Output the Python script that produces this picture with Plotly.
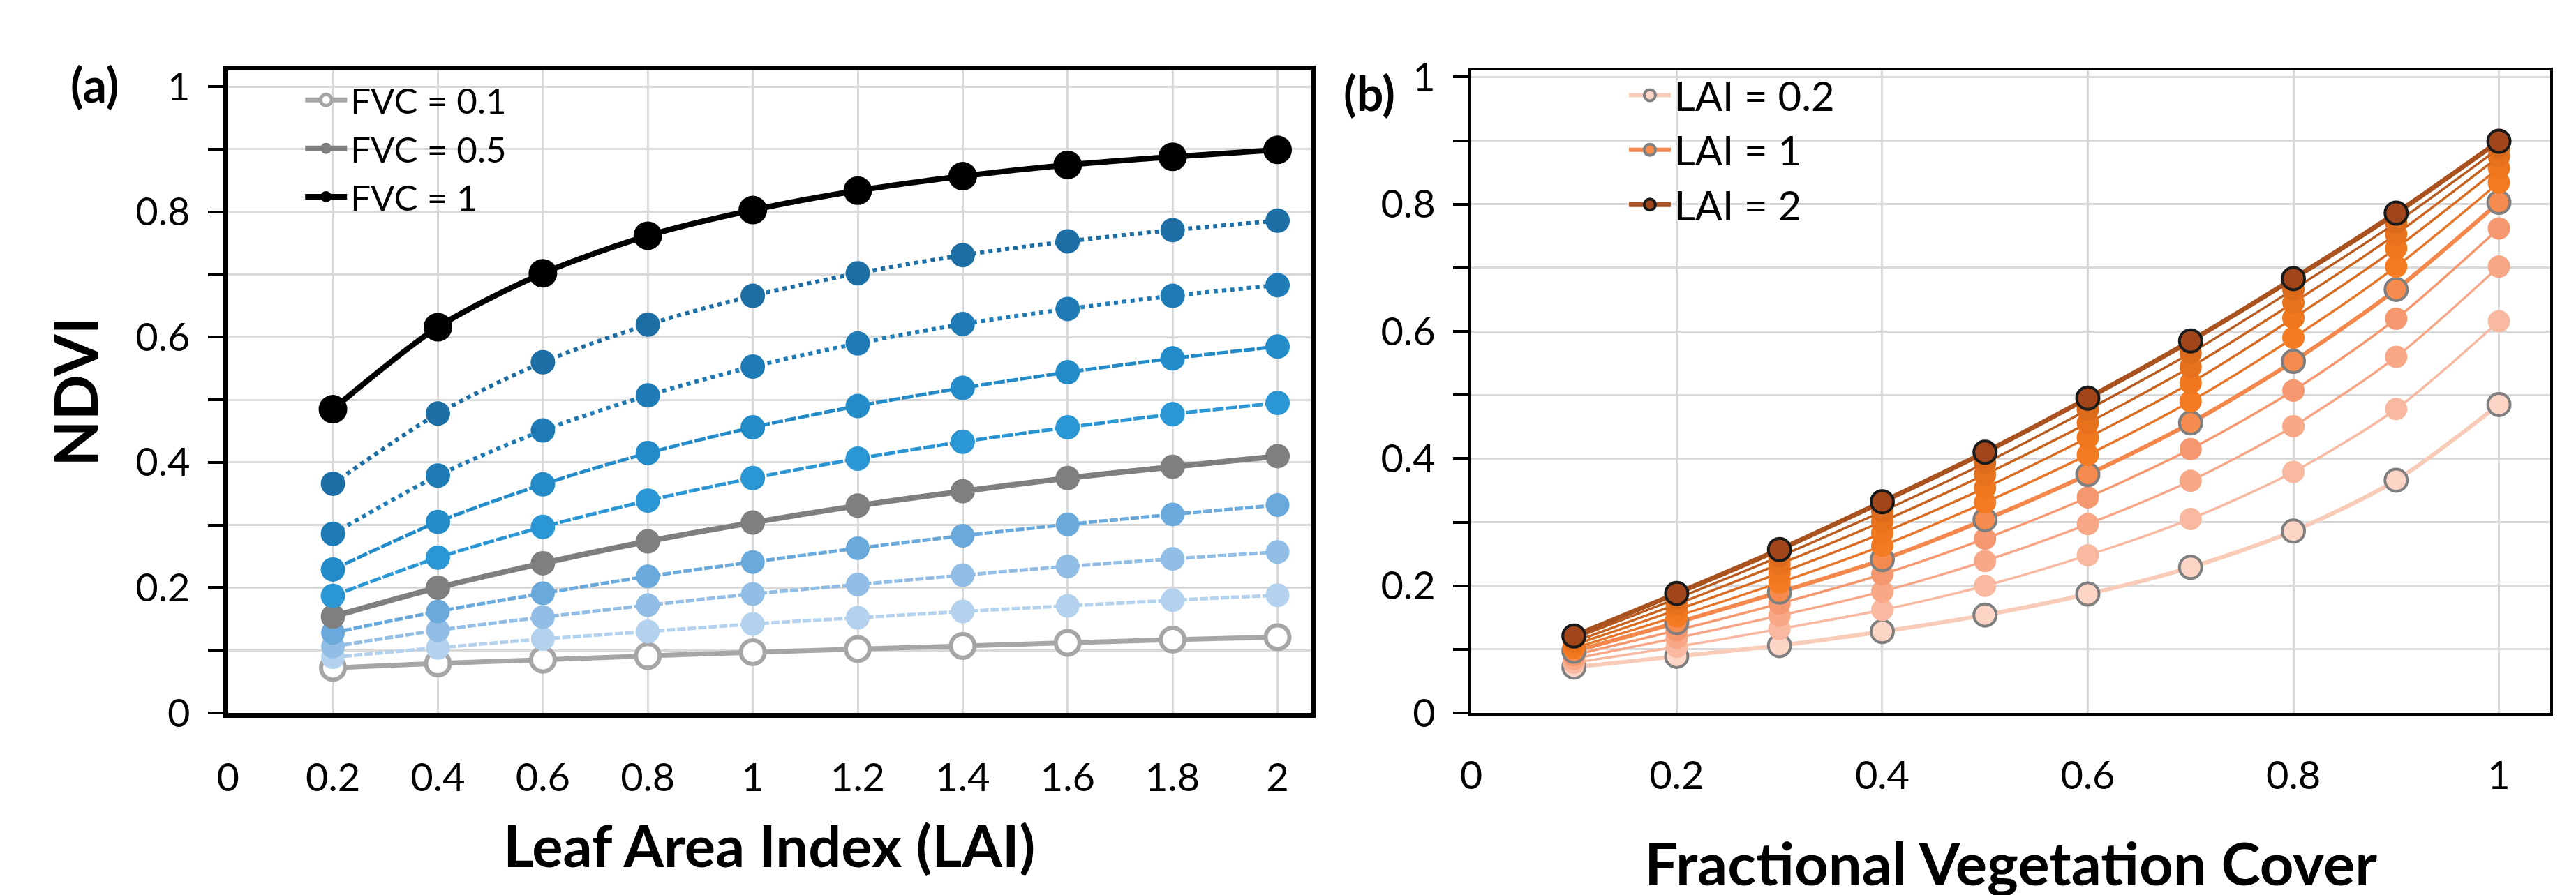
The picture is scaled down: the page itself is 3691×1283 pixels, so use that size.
import plotly.graph_objects as go

# LAI steps (x of panel a) and FVC steps (x of panel b)
lai = [0.2, 0.4, 0.6, 0.8, 1.0, 1.2, 1.4, 1.6, 1.8, 2.0]
fvc = [0.1, 0.2, 0.3, 0.4, 0.5, 0.6, 0.7, 0.8, 0.9, 1.0]

# NDVI, one list per FVC value, along lai
ndvi_fvc01 = [0.072, 0.079, 0.085, 0.091, 0.097, 0.102, 0.107, 0.112, 0.117, 0.121]
ndvi_fvc02 = [0.089, 0.104, 0.118, 0.130, 0.142, 0.152, 0.162, 0.171, 0.180, 0.188]
ndvi_fvc03 = [0.106, 0.132, 0.153, 0.172, 0.190, 0.205, 0.220, 0.234, 0.246, 0.257]
ndvi_fvc04 = [0.128, 0.162, 0.191, 0.218, 0.241, 0.263, 0.283, 0.301, 0.317, 0.332]
ndvi_fvc05 = [0.154, 0.200, 0.239, 0.274, 0.304, 0.331, 0.354, 0.375, 0.393, 0.410]
ndvi_fvc06 = [0.187, 0.248, 0.297, 0.339, 0.375, 0.406, 0.433, 0.456, 0.477, 0.495]
ndvi_fvc07 = [0.229, 0.305, 0.365, 0.415, 0.456, 0.490, 0.519, 0.544, 0.566, 0.585]
ndvi_fvc08 = [0.286, 0.379, 0.451, 0.507, 0.553, 0.590, 0.621, 0.645, 0.666, 0.683]
ndvi_fvc09 = [0.366, 0.478, 0.560, 0.620, 0.666, 0.702, 0.731, 0.753, 0.771, 0.786]
ndvi_fvc10 = [0.485, 0.616, 0.702, 0.762, 0.803, 0.834, 0.857, 0.875, 0.888, 0.899]

ndvi_rows = [ndvi_fvc01, ndvi_fvc02, ndvi_fvc03, ndvi_fvc04, ndvi_fvc05,
             ndvi_fvc06, ndvi_fvc07, ndvi_fvc08, ndvi_fvc09, ndvi_fvc10]

fvc_legend = ['FVC = 0.1', 'FVC = 0.5', 'FVC = 1']
lai_legend = ['LAI = 0.2', 'LAI = 1', 'LAI = 2']

W, H = 3691, 1283
FONT = 'Lato, Open Sans, sans-serif'

# panel a styles, one per FVC line
a_color = ['#a6a6a6', '#b4d2ee', '#92bde5', '#6aa9dc', '#7f7f7f',
           '#2a96d4', '#228bc8', '#1f7bb6', '#1c6ea4', '#000000']
a_dash = ['solid', '12px,3px', '12px,3px', '12px,3px', 'solid',
          '16px,3px', '16px,3px', 'dot', 'dot', 'solid']
a_width = [7, 5, 5, 5, 8, 5, 5, 6, 6, 8]
a_size = [34, 34, 34, 34, 35, 35, 35, 35, 35, 41]

# panel b styles, one per LAI line
b_line = ['#f9cbb9', '#f8b9a2', '#f7a787', '#f6986f', '#f4874b',
          '#e8762a', '#d86c22', '#c86420', '#b85b20', '#a9521f']
b_fill = ['#fcd5c6', '#f9b9a1', '#f8a887', '#f6986f', '#f58b4f',
          '#f47b22', '#f0771e', '#e8721c', '#dc6c1c', '#a0461a']
b_width = [6, 3.5, 3.5, 3.5, 6, 3.5, 3.5, 3.5, 3.5, 7]

fig = go.Figure()

for i, f in enumerate(fvc):
    name = 'FVC = %g' % f
    hollow = i == 0
    fig.add_trace(go.Scatter(
        x=lai, y=ndvi_rows[i], name=name, mode='lines+markers',
        xaxis='x', yaxis='y', legend='legend',
        showlegend=name in fvc_legend,
        line=dict(color=a_color[i], width=a_width[i], dash=a_dash[i],
                  shape='spline', smoothing=0.8),
        marker=dict(size=a_size[i], color='white' if hollow else a_color[i],
                    line=dict(color=a_color[i], width=6 if hollow else 0)),
    ))

for j, l in enumerate(lai):
    name = 'LAI = %g' % l
    col = [row[j] for row in ndvi_rows]
    if j == len(lai) - 1:
        edge, ew = '#1a1a1a', 4
    elif name in lai_legend:
        edge, ew = '#7f7f7f', 4
    else:
        edge, ew = b_fill[j], 0
    fig.add_trace(go.Scatter(
        x=fvc, y=col, name=name, mode='lines+markers',
        xaxis='x2', yaxis='y2', legend='legend2',
        showlegend=name in lai_legend,
        line=dict(color=b_line[j], width=b_width[j], shape='spline', smoothing=0.8),
        marker=dict(size=32, color=b_fill[j], line=dict(color=edge, width=ew)),
    ))

tickfont = dict(family=FONT, size=56, color='black')
grid = '#d9d9d9'

ydom = [1 - 1035 / H, 1 - 71 / H]


def yaxis(rng, lw, anchor):
    return dict(
        range=rng, domain=ydom, anchor=anchor, dtick=0.2, tick0=0,
        showgrid=True, gridcolor=grid, gridwidth=3, zeroline=False,
        showline=True, mirror=True, linecolor='black', linewidth=lw,
        ticks='outside', ticklen=22, tickwidth=4, tickcolor='black',
        ticklabelstandoff=14, tickfont=tickfont,
        minor=dict(dtick=0.1, tick0=0, ticks='outside', ticklen=22, tickwidth=4,
                   tickcolor='black', showgrid=True, gridcolor=grid, gridwidth=3),
    )


def xaxis(rng, dom, lw, title, size, standoff, anchor):
    return dict(
        range=rng, domain=dom, anchor=anchor, dtick=0.2, tick0=0,
        showgrid=True, gridcolor=grid, gridwidth=3, zeroline=False,
        showline=True, mirror=True, linecolor='black', linewidth=lw,
        ticks='', ticklabelstandoff=38, tickfont=tickfont,
        title=dict(text=title, standoff=standoff,
                   font=dict(family=FONT, size=size, color='black', weight='bold')),
    )


ya = yaxis([0, 1.026], 7, 'x')
ya['title'] = dict(text='NDVI', standoff=28,
                   font=dict(family=FONT, size=86, color='black', weight='bold'))
yb = yaxis([0, 1.0105], 4, 'x2')

fig.update_layout(
    width=W, height=H,
    margin=dict(l=0, r=0, t=0, b=0),
    paper_bgcolor='white', plot_bgcolor='white',
    font=dict(family=FONT, color='black'),
    xaxis=xaxis([0, 2.063], [304 / W, 1862 / W], 7, 'Leaf Area Index (LAI)', 83, 42, 'y'),
    yaxis=ya,
    xaxis2=xaxis([0, 1.05], [2093 / W, 3646 / W], 4, 'Fractional Vegetation Cover', 85, 68, 'y2'),
    yaxis2=yb,
    legend=dict(x=410 / W, y=1 - 74 / H, xanchor='left', yanchor='top',
                bgcolor='rgba(0,0,0,0)', font=dict(family=FONT, size=51),
                itemwidth=60, tracegroupgap=0),
    legend2=dict(x=2315 / W, y=1 - 62 / H, xanchor='left', yanchor='top',
                 bgcolor='rgba(0,0,0,0)', font=dict(family=FONT, size=58),
                 itemwidth=60, tracegroupgap=0),
    annotations=[
        dict(text='<b>(a)</b>', x=112 / W, y=1 - 92 / H, xref='paper', yref='paper',
             xanchor='center', yanchor='middle',
             showarrow=False, font=dict(family=FONT, size=68)),
        dict(text='<b>(b)</b>', x=1946 / W, y=1 - 104 / H, xref='paper', yref='paper',
             xanchor='center', yanchor='middle',
             showarrow=False, font=dict(family=FONT, size=68)),
    ],
)

fig.write_html("out.html")
